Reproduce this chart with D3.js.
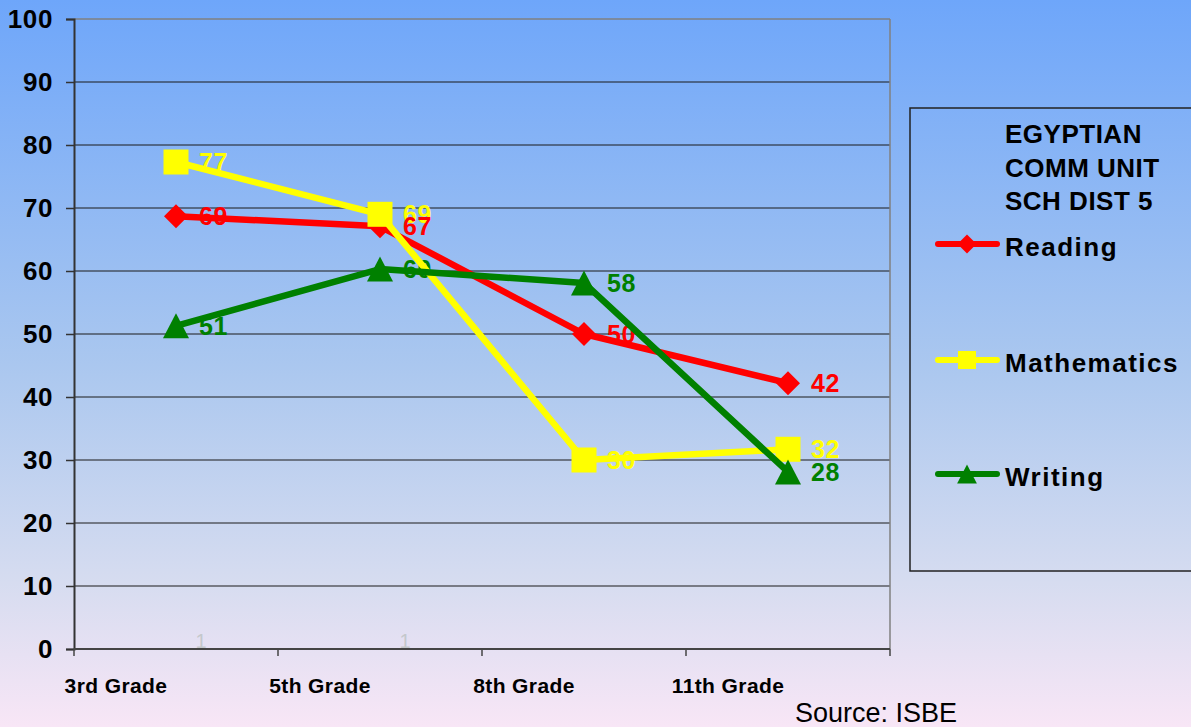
<!DOCTYPE html>
<html>
<head>
<meta charset="utf-8">
<script src="https://cdn.jsdelivr.net/npm/d3@7"></script>
<style>
  html, body { margin: 0; padding: 0; overflow: hidden; }
  svg { display: block; font-family: "Liberation Sans", Arial, sans-serif; }
</style>
</head>
<body>
<svg id="chart" width="1191" height="727"></svg>
<script>
// ---- data ----
const categories = ["3rd Grade", "5th Grade", "8th Grade", "11th Grade"];
const reading = [68.7, 67.1, 50, 42.2];
const mathematics = [77.3, 69, 30, 31.7];
const writing = [51.3, 60.3, 58.1, 28.1];
const seriesNames = ["Reading", "Mathematics", "Writing"];
const seriesColors = ["#ff0000", "#ffff00", "#008000"];
const seriesSymbols = ["diamond", "square", "triangle"];
const yTicks = [0, 10, 20, 30, 40, 50, 60, 70, 80, 90, 100];
const legendTitle = ["EGYPTIAN", "COMM UNIT", "SCH DIST 5"];
const strayLabels = ["1", "1"];   // faint labels near the baseline for the first two categories
const sourceText = "Source: ISBE";

const seriesValues = [reading, mathematics, writing];

// ---- layout ----
const svg = d3.select("#chart");
const W = 1191, H = 727;
const plot = { left: 74, right: 890, top: 19, bottom: 649 };

// background gradient
const defs = svg.append("defs");
const grad = defs.append("linearGradient").attr("id", "bg").attr("x1", 0).attr("y1", 0).attr("x2", 0).attr("y2", 1);
grad.append("stop").attr("offset", "0%").attr("stop-color", "#6ea6fa");
grad.append("stop").attr("offset", "50%").attr("stop-color", "#aac7ef");
grad.append("stop").attr("offset", "80%").attr("stop-color", "#d6dcf0");
grad.append("stop").attr("offset", "100%").attr("stop-color", "#f8e6f6");
svg.append("rect").attr("width", W).attr("height", H).attr("fill", "url(#bg)");

// scales
const x = d3.scaleBand().domain(categories).range([plot.left, plot.right]).padding(0);
const y = d3.scaleLinear().domain([0, 100]).range([plot.bottom, plot.top]);
const cx = c => x(c) + x.bandwidth() / 2;

// gridlines
svg.append("g").selectAll("line").data(yTicks.filter(v => v > 0 && v < 100)).join("line")
  .attr("x1", plot.left).attr("x2", plot.right)
  .attr("y1", d => y(d)).attr("y2", d => y(d))
  .attr("stroke", "#1a1a1a").attr("stroke-width", 1);

// plot border top/right (gray)
svg.append("line").attr("x1", plot.left).attr("x2", plot.right).attr("y1", y(100)).attr("y2", y(100))
  .attr("stroke", "#808080").attr("stroke-width", 1.5);
svg.append("line").attr("x1", plot.right).attr("x2", plot.right).attr("y1", y(100)).attr("y2", y(0))
  .attr("stroke", "#808080").attr("stroke-width", 1.5);

// y axis
const yAxis = d3.axisLeft(y).tickValues(yTicks).tickSize(8).tickPadding(13).tickFormat(d3.format("d"));
const gy = svg.append("g").attr("transform", `translate(${plot.left},0)`).call(yAxis);
gy.select(".domain").attr("stroke", "#333").attr("stroke-width", 2);
gy.selectAll(".tick line").attr("stroke", "#333").attr("stroke-width", 1.5);
gy.selectAll(".tick text").attr("font-size", 26).attr("font-weight", "bold").attr("letter-spacing", 0.6)
  .attr("fill", "#000").attr("font-family", "'Liberation Sans', Arial, sans-serif");

// x axis line + ticks at band edges
const edges = categories.map(c => x(c)).concat([plot.right]);
svg.append("line").attr("x1", plot.left).attr("x2", plot.right).attr("y1", y(0)).attr("y2", y(0))
  .attr("stroke", "#444").attr("stroke-width", 2);
svg.append("g").selectAll("line").data(edges).join("line")
  .attr("x1", d => d).attr("x2", d => d).attr("y1", y(0)).attr("y2", y(0) + 7)
  .attr("stroke", "#444").attr("stroke-width", 1.5);
svg.append("g").selectAll("text").data(categories).join("text")
  .attr("x", d => x(d) + 42).attr("y", 693)
  .attr("text-anchor", "middle").attr("font-size", 21).attr("font-weight", "bold")
  .attr("letter-spacing", 0.4).attr("fill", "#000").text(d => d);

// stray faint labels
svg.append("g").selectAll("text").data(strayLabels).join("text")
  .attr("x", (d, i) => cx(categories[i]) + 25).attr("y", 648)
  .attr("text-anchor", "middle").attr("font-size", 20).attr("fill", "#c4c8cc").text(d => d);

// symbol helpers
function symbolPath(type, s) {
  if (type === "diamond") return `M0,${-s}L${s},0L0,${s}L${-s},0Z`;
  if (type === "square") return `M${-s},${-s}H${s}V${s}H${-s}Z`;
  return `M0,${-s}L${s * 1.04},${s}L${-s * 1.04},${s}Z`;
}
const markerHalf = { diamond: 12, square: 12.5, triangle: 12.5 };

// data labels (drawn under lines)
const labelOrder = [1, 0, 2];
labelOrder.forEach(si => {
  svg.append("g").selectAll("text").data(seriesValues[si]).join("text")
    .attr("x", (d, i) => cx(categories[i]) + 23).attr("y", d => y(d))
    .attr("dy", "0.36em").attr("font-size", 25).attr("font-weight", "bold").attr("letter-spacing", 0.5)
    .attr("fill", seriesColors[si]).text(d => d3.format(".0f")(d));
});

// lines + markers
const line = d3.line().x((d, i) => cx(categories[i])).y(d => y(d));
seriesValues.forEach((vals, si) => {
  const g = svg.append("g");
  g.append("path").attr("d", line(vals)).attr("fill", "none")
    .attr("stroke", seriesColors[si]).attr("stroke-width", 6.5).attr("stroke-linejoin", "round");
  g.selectAll("path.m").data(vals).join("path").attr("class", "m")
    .attr("transform", (d, i) => `translate(${cx(categories[i])},${y(d)})`)
    .attr("d", symbolPath(seriesSymbols[si], markerHalf[seriesSymbols[si]]))
    .attr("fill", seriesColors[si]);
});

// legend
const lg = svg.append("g");
lg.append("rect").attr("x", 910).attr("y", 108).attr("width", 300).attr("height", 463)
  .attr("fill", "none").attr("stroke", "#222").attr("stroke-width", 1.5);
lg.selectAll("text.t").data(legendTitle).join("text").attr("class", "t")
  .attr("x", 1005).attr("y", (d, i) => 143 + i * 33.5)
  .attr("font-size", 26).attr("font-weight", "bold").attr("letter-spacing", 0.5)
  .attr("fill", "#000").text(d => d);
const legendY = [244, 360, 474];
seriesNames.forEach((name, si) => {
  const ly = legendY[si];
  lg.append("line").attr("x1", 938).attr("x2", 997).attr("y1", ly).attr("y2", ly)
    .attr("stroke", seriesColors[si]).attr("stroke-width", 6).attr("stroke-linecap", "round");
  lg.append("path").attr("transform", `translate(967,${ly})`)
    .attr("d", symbolPath(seriesSymbols[si], seriesSymbols[si] === "square" ? 9 : 9.5))
    .attr("fill", seriesColors[si]);
  lg.append("text").attr("x", 1005).attr("y", ly + 12)
    .attr("font-size", 26).attr("font-weight", "bold").attr("letter-spacing", 1.5)
    .attr("fill", "#000").text(name);
});

// source
svg.append("text").attr("x", 795).attr("y", 722).attr("font-size", 27)
  .attr("fill", "#000").text(sourceText);
</script>
</body>
</html>
